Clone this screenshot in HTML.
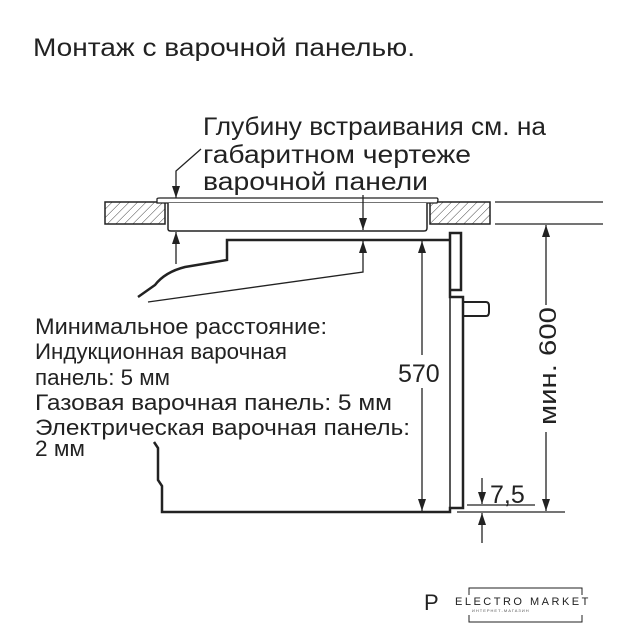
<!DOCTYPE html>
<html><head><meta charset="utf-8"><style>body{margin:0;background:#fff}svg{display:block}</style></head>
<body>
<svg width="640" height="640" viewBox="0 0 640 640" xmlns="http://www.w3.org/2000/svg" font-family="Liberation Sans, sans-serif" fill="#222">
<defs>
<pattern id="h" width="6" height="6" patternUnits="userSpaceOnUse" patternTransform="rotate(45)"><line x1="0" y1="0" x2="0" y2="6" stroke="#444" stroke-width="1"/></pattern>
<marker id="a" markerWidth="12" markerHeight="8" refX="12" refY="4" orient="auto" markerUnits="userSpaceOnUse" viewBox="0 0 12 8"><path d="M0,0 L12,4 L0,8 Z" fill="#222"/></marker>
</defs>
<text x="33" y="56" font-size="25" textLength="382" lengthAdjust="spacingAndGlyphs">Монтаж с варочной панелью.</text>
<g font-size="25">
<text x="203" y="135" textLength="343" lengthAdjust="spacingAndGlyphs">Глубину встраивания см. на</text>
<text x="203" y="163" textLength="268" lengthAdjust="spacingAndGlyphs">габаритном чертеже</text>
<text x="203" y="190" textLength="225" lengthAdjust="spacingAndGlyphs">варочной панели</text>
</g>
<g font-size="22">
<text x="35" y="334" textLength="292" lengthAdjust="spacingAndGlyphs">Минимальное расстояние:</text>
<text x="35" y="359" textLength="252" lengthAdjust="spacingAndGlyphs">Индукционная варочная</text>
<text x="35" y="385" textLength="135" lengthAdjust="spacingAndGlyphs">панель: 5 мм</text>
<text x="35" y="410" textLength="357" lengthAdjust="spacingAndGlyphs">Газовая варочная панель: 5 мм</text>
<text x="35" y="435" textLength="375" lengthAdjust="spacingAndGlyphs">Электрическая варочная панель:</text>
<text x="35" y="456" textLength="50" lengthAdjust="spacingAndGlyphs">2 мм</text>
</g>
<g stroke="#222" fill="none">
<rect x="105" y="202" width="60" height="22" fill="url(#h)" stroke-width="1.5"/>
<rect x="430" y="202" width="60" height="22" fill="url(#h)" stroke-width="1.5"/>
<line x1="495" y1="202" x2="603" y2="202" stroke-width="1.2"/>
<line x1="495" y1="224" x2="603" y2="224" stroke-width="1.2"/>
<path d="M157,203 L157,199 Q157,198 160,198 L437,198 Q439,199 437,203 Z" fill="#fff" stroke-width="1.3"/>
<path d="M168,203 L168,229 Q168,231 171,231 L424,231 Q427,231 427,228 L427,203" fill="#fff" stroke-width="1.5"/>
<path d="M450,240 L227,240 L227,260 L185,267 Q165,272 155,285 L138,297" stroke-width="2.5"/>
<path d="M450,233 L461,233 L461,290 L450,290 Z M450,290 L450,297 L463,297 L463,508 L450,508 L450,512 L162,512 L162,486 L158,480 L158,448 L154,442" stroke-width="2.5"/>
<path d="M463,302 L486,302 Q489,302 489,306 L489,312 Q489,316 486,316 L463,316" stroke-width="2"/>
<path d="M450,297 L450,508" stroke-width="1.5"/>
<g stroke-width="1.3">
<path d="M201,149 L176,171 L176,198" marker-end="url(#a)"/>
<line x1="176" y1="264" x2="176" y2="232" marker-end="url(#a)"/>
<line x1="363" y1="195" x2="363" y2="230" marker-end="url(#a)"/>
<path d="M148,302 L363,272 L363,241" marker-end="url(#a)"/>
<line x1="422" y1="355" x2="422" y2="241" marker-end="url(#a)"/>
<line x1="422" y1="388" x2="422" y2="511" marker-end="url(#a)"/>
<line x1="546" y1="305" x2="546" y2="225" marker-end="url(#a)"/>
<line x1="546" y1="432" x2="546" y2="511" marker-end="url(#a)"/>
<line x1="457" y1="512" x2="565" y2="512"/>
<line x1="467" y1="505" x2="535" y2="505"/>
<line x1="482" y1="478" x2="482" y2="504" marker-end="url(#a)"/>
<line x1="482" y1="543" x2="482" y2="513" marker-end="url(#a)"/>
</g>
</g>
<text x="398" y="382" font-size="25">570</text>
<text x="490" y="503" font-size="25">7,5</text>
<text transform="translate(556,425) rotate(-90)" font-size="24" textLength="118" lengthAdjust="spacingAndGlyphs">мин. 600</text>
<text x="424" y="610" font-size="22">P</text>
<path d="M469,595 L469,588 L582,588 L582,595 M469,615 L469,622 L582,622 L582,615" stroke="#222" fill="none" stroke-width="1"/>
<text x="455" y="605" font-size="11" letter-spacing="2.5">ELECTRO MARKET</text>
<text x="472" y="612" font-size="4" letter-spacing="1" fill="#555">ИНТЕРНЕТ-МАГАЗИН</text>
</svg>
</body></html>
